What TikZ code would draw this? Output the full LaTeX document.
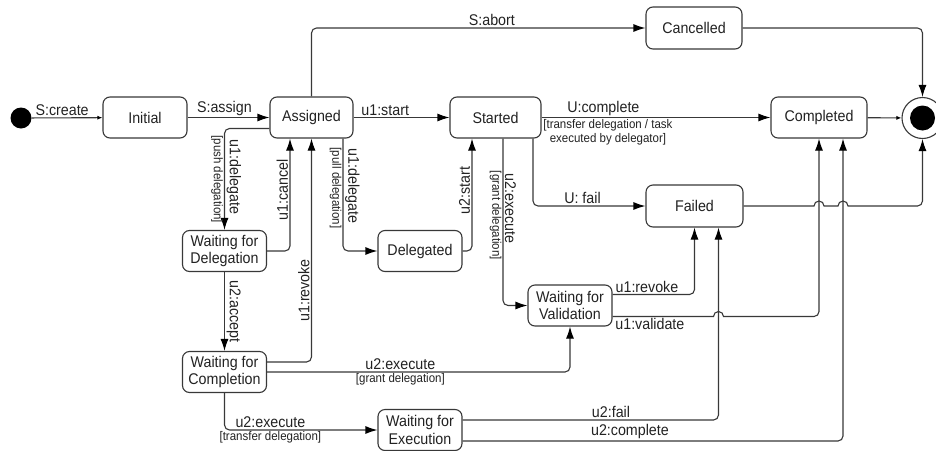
\documentclass[tikz,border=0pt]{standalone}
\usepackage{fontspec}
\setmainfont{Liberation Sans}[FakeStretch=0.92]
\usetikzlibrary{arrows.meta, calc}
\definecolor{linegray}{RGB}{56, 56, 56}
\definecolor{textgray}{RGB}{34, 34, 34}

\begin{document}
\begin{tikzpicture}[x=1pt, y=-1pt,
  statebox/.style={draw=linegray, line width=1.1pt, rounded corners=7pt, fill=white, minimum width=84pt, minimum height=41pt, inner sep=2pt, align=center, text=textgray, font=\fontsize{15.5}{17.5}\selectfont},
  trans/.style={draw=linegray, line width=1.1pt, rounded corners=5pt, -{Latex[black, length=12pt, width=8pt]}},
  shorttrans/.style={draw=linegray, line width=1.1pt, -{Latex[black, length=5pt, width=4pt]}},
  lbl/.style={text=textgray, inner sep=1.5pt, font=\fontsize{15.5}{17.5}\selectfont},
  guard/.style={text=textgray, inner sep=1pt, font=\fontsize{12.5}{14}\selectfont}]
  \useasboundingbox (0,0) rectangle (936,450);

  % Pseudo states
  \node[circle, fill=black, minimum size=21pt, inner sep=0pt] (init) at (21,118) {};
  \node[circle, draw=linegray, line width=1.1pt, fill=white, minimum size=41pt, inner sep=0pt] (final) at (922.5,118) {};
  \fill[black] (final.center) circle (12.5pt);

  % Main line
  \node[statebox] (initial) at (145,117.5) {Initial};
  \node[statebox, minimum width=83pt] (assigned) at (311.5,117.5) {Assigned};
  \node[statebox, minimum width=91pt] (started) at (495.5,117.5) {Started};
  \node[statebox, minimum width=96pt] (completed) at (819,117.5) {Completed};
  \node[statebox, minimum width=96pt, minimum height=42pt] (cancelled) at (694,28) {Cancelled};
  \node[statebox, minimum width=97pt, minimum height=42pt] (failed) at (694.5,206) {Failed};

  % Delegation states
  \node[statebox] (delegated) at (420,251) {Delegated};
  \node[statebox] (wfd) at (224.5,251) {Waiting for\\Delegation};
  \node[statebox] (wfc) at (224.5,372) {Waiting for\\Completion};
  \node[statebox] (wfv) at (570,305.5) {Waiting for\\Validation};
  \node[statebox] (wfe) at (420,430) {Waiting for\\Execution};

  \coordinate (fl) at ($(failed.south)+(24,0)$);
  \coordinate (cl) at ($(completed.south)+(24,0)$);
  \coordinate (pull) at ($(assigned.south)+(31.5,0)$);
  \coordinate (grant) at ($(started.south)+(7.5,0)$);

  % Main transitions
  \draw[shorttrans] (init) -- node[lbl, pos=0.43, above] {S:create} (initial);
  \draw[trans] (initial) -- node[lbl, pos=0.45, above] {S:assign} (assigned);
  \draw[trans] (assigned) -- node[lbl, pos=0.33, above] {u1:start} (started);
  \draw[trans] (assigned.north) |- node[lbl, pos=0.77, above] {S:abort} (cancelled.west);
  \draw[trans] (cancelled.east) -| (final.north);
  \draw[trans] (started) -- node[lbl, pos=0.27, above] {U:complete}
    node[guard, pos=0.29, below, align=center] {[transfer delegation / task\\executed by delegator]} (completed);
  \draw[shorttrans] (completed) -- (final);
  \draw[trans] ($(started.south)+(37.5,0)$) |- node[lbl, pos=0.72, above] {U: fail} (failed.west);
  \draw[trans, sharp corners] (failed.east) -- ($(failed.east -| completed.south)+(-5,0)$)
    arc[start angle=180, end angle=0, radius=5pt] -- ($(failed.east -| cl)+(-5,0)$)
    arc[start angle=180, end angle=0, radius=5pt] [rounded corners=5pt] -| (final.south);

  % Delegation transitions
  \draw[trans] ($(assigned.west)+(0,11)$) -| node[lbl, pos=0.74, rotate=-90, anchor=south] {u1:delegate}
    node[guard, pos=0.75, rotate=-90, anchor=north] {[push delegation]} (wfd.north);
  \draw[trans] (wfd.east) -| node[lbl, pos=0.77, rotate=90, anchor=south] {u1:cancel} ($(assigned.south)+(-21.5,0)$);
  \draw[trans] (wfd) -- node[lbl, rotate=-90, anchor=south] {u2:accept} (wfc);
  \draw[trans] ($(wfc.east)+(0,-10)$) -| node[lbl, pos=0.66, rotate=90, anchor=south] {u1:revoke} (assigned.south);
  \draw[trans] (pull) -- node[lbl, pos=0.42, rotate=-90, anchor=south] {u1:delegate}
    node[guard, pos=0.44, rotate=-90, anchor=north] {[pull delegation]} (pull |- delegated.west) -- (delegated.west);
  \draw[trans] (delegated.east) -| node[lbl, pos=0.77, rotate=90, anchor=south] {u2:start} ($(started.south)+(-23.5,0)$);
  \draw[trans] (grant) -- node[lbl, pos=0.42, rotate=-90, anchor=south] {u2:execute}
    node[guard, pos=0.46, rotate=-90, anchor=north] {[grant delegation]} (grant |- wfv.west) -- (wfv.west);
  \draw[trans] (wfc.east) -| node[lbl, pos=0.22, above] {u2:execute}
    node[guard, pos=0.22, below] {[grant delegation]} (wfv.south);
  \draw[trans] (wfc.south) |- node[lbl, pos=0.65, above] {u2:execute}
    node[guard, pos=0.65, below] {[transfer delegation]} (wfe.west);

  % Validation and execution outcomes
  \draw[trans] ($(wfv.east)+(0,-11)$) -| node[lbl, pos=0.21, above] {u1:revoke} (failed.south);
  \draw[trans, sharp corners] ($(wfv.east)+(0,11)$) -- node[lbl, pos=0.37, below] {u1:validate} ($(wfv.east -| fl)+(-5,11)$)
    arc[start angle=180, end angle=0, radius=5pt] [rounded corners=5pt] -| (completed.south);
  \draw[trans] ($(wfe.east)+(0,-10)$) -| node[lbl, pos=0.29, above] {u2:fail} (fl);
  \draw[trans] ($(wfe.east)+(0,11)$) -| node[lbl, pos=0.22, above] {u2:complete} (cl);
\end{tikzpicture}
\end{document}
